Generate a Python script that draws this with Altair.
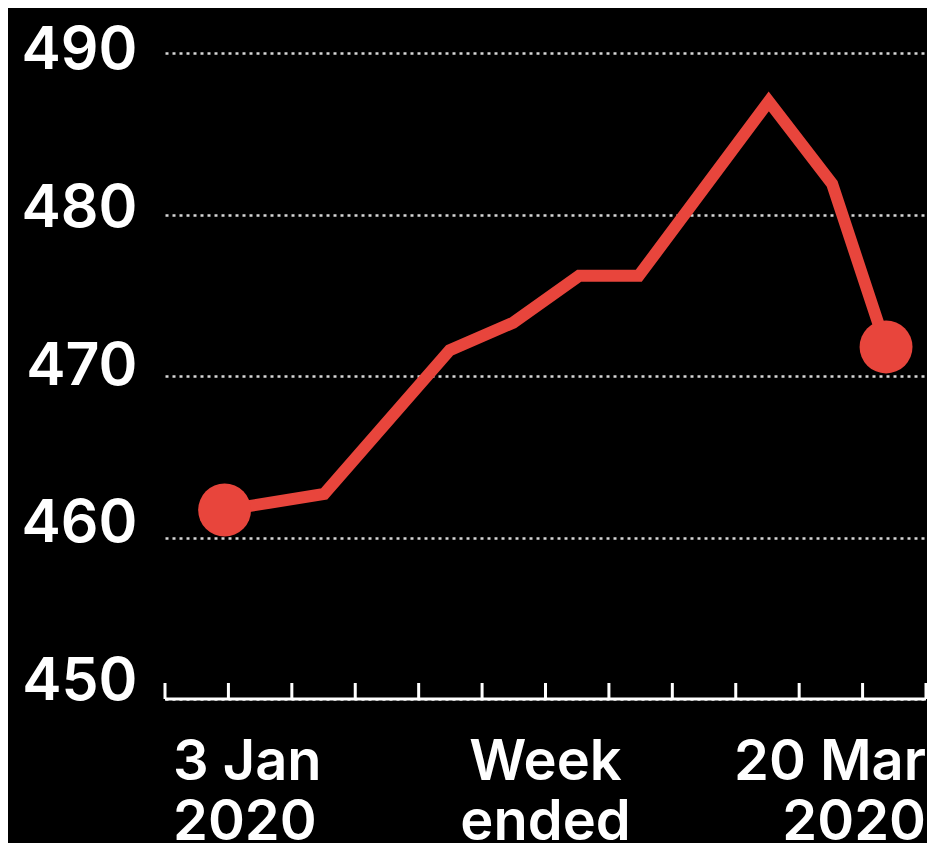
import altair as alt
import pandas as pd

# Data (x = position in week-spacing units, 0..12)
week_pos = [0.94, 2.51, 4.49, 5.49, 6.53, 7.47, 9.52, 10.52, 11.37]
values = [461.7, 462.7, 471.6, 473.3, 476.2, 476.2, 487.0, 481.9, 471.8]
y_ticks = [450, 460, 470, 480, 490]
x_ticks = list(range(13))
x_labels = ["3 Jan\n2020", "Week\nended", "20 Mar\n2020"]
x_label_pos = [0, 6, 12]

RED = "#e8453c"
FONT = "Inter"
W, H = 761, 646

df = pd.DataFrame({"x": week_pos, "y": values})
ends = df.iloc[[0, len(df) - 1]]
ticks_df = pd.DataFrame({"x": x_ticks, "y": [y_ticks[0]] * len(x_ticks)})
domain_df = pd.DataFrame({"x": [x_ticks[0]], "x2": [x_ticks[-1]], "y": [y_ticks[0]]})

xs = alt.Scale(domain=[x_ticks[0], x_ticks[-1]], nice=False, zero=False)
ys = alt.Scale(domain=[y_ticks[0], y_ticks[-1]], nice=False, zero=False)

y_axis = alt.Axis(
    values=y_ticks, grid=True, gridColor="#d6d6d6", gridDash=[3, 4], gridWidth=2.5,
    domain=False, ticks=False, labelFont=FONT, labelFontSize=59, labelFontWeight=600,
    labelColor="white", labelPadding=28,
    labelOffset=alt.ExprRef("-10 + (datum.value - 470) * 0.375"),
    title=None,
)

X = alt.X("x:Q", scale=xs, axis=None)
Y = alt.Y("y:Q", scale=ys, axis=y_axis)

line = alt.Chart(df).mark_line(
    color=RED, strokeWidth=12, strokeJoin="miter", strokeCap="butt"
).encode(x=X, y=Y)

points = alt.Chart(ends).mark_circle(color=RED, size=2800, opacity=1).encode(x=X, y=Y)

domain_rule = alt.Chart(domain_df).mark_rule(color="white", strokeWidth=3).encode(
    x=X, x2="x2:Q", y=Y
)

tick_rules = alt.Chart(ticks_df).mark_rule(color="white", strokeWidth=3).encode(
    x=X, y=Y, y2=alt.value(H - 16)
)

def label_layer(i, align, dx):
    d = pd.DataFrame({"x": [x_label_pos[i]], "t": [x_labels[i]]})
    return alt.Chart(d).mark_text(
        align=align, baseline="top", lineBreak="\n", font=FONT, fontSize=56,
        fontWeight=600, color="white", lineHeight=60, dx=dx,
    ).encode(x=X, y=alt.value(683), text="t:N")

chart = alt.layer(
    domain_rule, tick_rules, line, points,
    label_layer(0, "left", 8), label_layer(1, "center", 0), label_layer(2, "right", 0),
).properties(
    width=W, height=H,
    padding={"left": 157, "top": 45, "right": 1, "bottom": 144},
    autosize=alt.AutoSizeParams(type="none"),
    background="black",
).configure_view(stroke=None)

chart.save("out.html", embed_options={"renderer": "svg", "actions": False})
